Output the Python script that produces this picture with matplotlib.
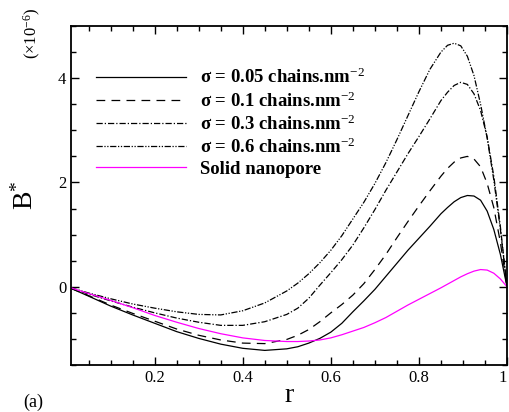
import matplotlib
matplotlib.use('Agg')
import matplotlib.pyplot as plt
import numpy as np
from matplotlib.ticker import MultipleLocator, FuncFormatter

plt.rcParams['font.family'] = ['Liberation Serif', 'DejaVu Serif']
plt.rcParams['mathtext.fontset'] = 'custom'
plt.rcParams['mathtext.rm'] = 'Liberation Serif'
plt.rcParams['mathtext.it'] = 'Liberation Serif:italic'
plt.rcParams['mathtext.bf'] = 'Liberation Serif:bold'

# radial position
r = [0.01, 0.05, 0.1, 0.15, 0.2, 0.25, 0.3, 0.35, 0.4, 0.45, 0.5, 0.525, 0.55, 0.575,
     0.6, 0.625, 0.65, 0.675, 0.7, 0.725, 0.75, 0.775, 0.8, 0.825, 0.85, 0.865, 0.88,
     0.895, 0.91, 0.925, 0.94, 0.955, 0.97, 0.985, 1.0]

# B* (x1e-6) for each grafting density
b_005 = [-0.03, -0.18, -0.37, -0.54, -0.70, -0.86, -0.99, -1.10, -1.18, -1.22, -1.19, -1.15, -1.08, -0.99,
         -0.87, -0.70, -0.48, -0.27, -0.05, 0.20, 0.45, 0.70, 0.93, 1.16, 1.40, 1.52, 1.63,
         1.71, 1.75, 1.74, 1.66, 1.45, 1.10, 0.62, 0.0]
b_01 = [-0.03, -0.17, -0.35, -0.51, -0.66, -0.81, -0.93, -1.02, -1.08, -1.09, -1.01, -0.93, -0.82, -0.67,
        -0.50, -0.34, -0.16, 0.06, 0.33, 0.62, 0.94, 1.25, 1.55, 1.84, 2.12, 2.27, 2.39,
        2.47, 2.50, 2.45, 2.30, 1.98, 1.52, 0.85, 0.0]
b_03 = [-0.03, -0.14, -0.27, -0.39, -0.50, -0.60, -0.68, -0.74, -0.74, -0.67, -0.53, -0.41, -0.22, 0.03,
        0.27, 0.52, 0.80, 1.13, 1.48, 1.85, 2.20, 2.55, 2.88, 3.22, 3.57, 3.73, 3.86,
        3.92, 3.88, 3.70, 3.38, 2.87, 2.12, 1.15, 0.0]
b_06 = [-0.02, -0.12, -0.23, -0.33, -0.41, -0.48, -0.53, -0.54, -0.46, -0.31, -0.08, 0.07, 0.25, 0.46,
        0.70, 0.98, 1.30, 1.62, 1.98, 2.38, 2.82, 3.28, 3.74, 4.17, 4.50, 4.63, 4.67,
        4.62, 4.42, 4.05, 3.50, 2.85, 2.05, 1.10, 0.0]
b_solid = [-0.02, -0.13, -0.26, -0.40, -0.55, -0.68, -0.80, -0.90, -0.98, -1.03, -1.05, -1.05, -1.04, -1.02,
           -0.98, -0.92, -0.85, -0.78, -0.69, -0.59, -0.47, -0.35, -0.24, -0.13, -0.02, 0.05, 0.12,
           0.19, 0.25, 0.30, 0.33, 0.32, 0.26, 0.15, 0.0]

labels = [r'σ = 0.05 chains.nm$^{-2}$', r'σ = 0.1 chains.nm$^{-2}$',
          r'σ = 0.3 chains.nm$^{-2}$', r'σ = 0.6 chains.nm$^{-2}$', 'Solid nanopore']

fig = plt.figure(figsize=(5.09, 4.12), dpi=100)
ax = fig.add_axes([71/509, 1 - 365/412, (507 - 71)/509, (365 - 26)/412])

lw = 0.9
ax.plot(r, b_005, color='black', lw=lw, label=labels[0])
ax.plot(r, b_01, color='black', lw=lw, dashes=(7, 5), label=labels[1])
ax.plot(r, b_03, color='black', lw=lw, dashes=(5, 1.6, 1, 1.6), label=labels[2])
ax.plot(r, b_06, color='black', lw=lw, dashes=(5, 1.3, 1, 1.3, 1, 1.3), label=labels[3])
ax.plot(r, b_solid, color='magenta', lw=lw, label=labels[4])

ax.set_xlim(0.01, 1.0)
ax.set_ylim(-1.5, 5.0)
ax.xaxis.set_major_locator(MultipleLocator(0.2))
ax.xaxis.set_minor_locator(MultipleLocator(0.05))
ax.yaxis.set_major_locator(MultipleLocator(2))
ax.yaxis.set_minor_locator(MultipleLocator(0.5))
ax.xaxis.set_major_formatter(FuncFormatter(lambda v, p: '1' if abs(v - 1) < 1e-9 else f'{v:.1f}'))
ax.tick_params(which='both', direction='in', top=True, right=True, labelsize=12, width=1)
ax.tick_params(which='major', length=6)
ax.tick_params(which='minor', length=3.5)
for s in ax.spines.values():
    s.set_linewidth(1.3)

ax.set_xlabel('r', fontsize=20, labelpad=-2)
ax.set_ylabel(r'B$^{*}$', fontsize=20, labelpad=14)
fig.text(32/509, 1 - 33/412, r'($\times$10$^{-6}$)', rotation=90, ha='center', va='center', fontsize=12)
fig.text(33/509, 1 - 402/412, '(a)', ha='center', va='center', fontsize=13)

leg = ax.legend(loc='upper left', bbox_to_anchor=(0.04, 0.898), frameon=False,
                prop={'weight': 'bold', 'size': 13.5}, handlelength=4.8, handletextpad=0.75,
                labelspacing=0.2, borderaxespad=0)

fig.canvas.draw()
for lab in ax.get_xticklabels():
    if lab.get_text() == '1':
        lab.set_ha('right')

plt.savefig('out.png', dpi=100)
